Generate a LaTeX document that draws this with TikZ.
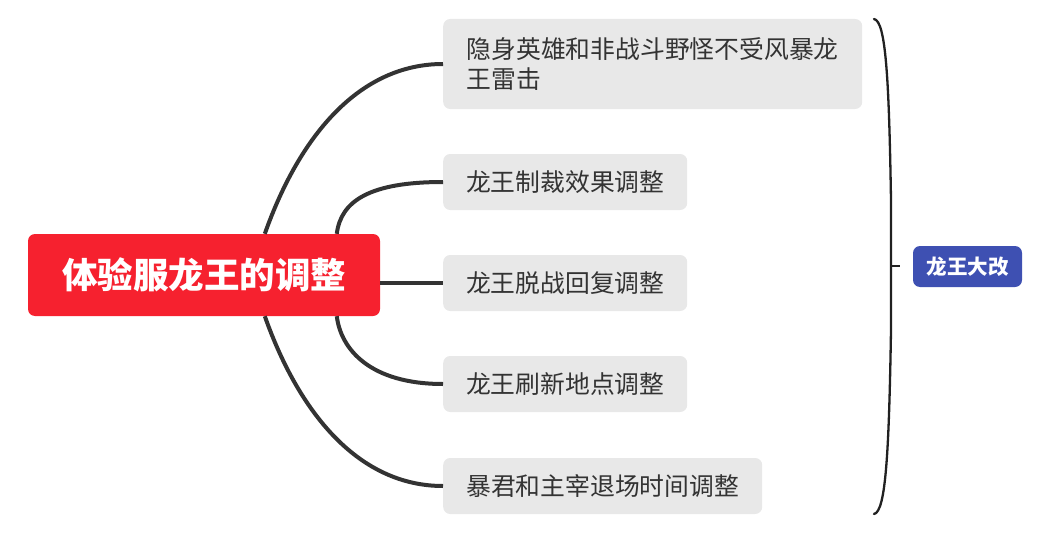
\documentclass[tikz,border=0pt]{standalone}
\usepackage{fontspec}
\newfontfamily\cjk{Noto Sans CJK SC}
\definecolor{rootred}{RGB}{246,33,47}
\definecolor{boxgray}{RGB}{232,232,232}
\definecolor{txtgray}{RGB}{51,51,51}
\definecolor{linegray}{RGB}{51,51,51}
\definecolor{sumblue}{RGB}{62,80,178}
\tikzset{
  rootbox/.style={fill=rootred, rounded corners=7pt, inner sep=0pt, minimum width=352pt, minimum height=82pt, text=white, font=\cjk\bfseries\fontsize{35.5}{40}\selectfont},
  topicbox/.style={fill=boxgray, rounded corners=7pt, inner sep=0pt, minimum height=56pt, anchor=west, text=txtgray, font=\cjk\fontsize{24.8}{30}\selectfont},
  sumbox/.style={fill=sumblue, rounded corners=7pt, inner sep=0pt, minimum width=109pt, minimum height=41pt, text=white, font=\cjk\bfseries\fontsize{20.5}{24}\selectfont},
  branch/.style={draw=linegray, line width=4pt},
  bracel/.style={draw=black!87, line width=2.3pt, line cap=round}
}
\begin{document}
\begin{tikzpicture}[x=1pt,y=-1pt]
\useasboundingbox (0,0) rectangle (1058,543);
\node[rootbox] (root) at (204,275) {体验服龙王的调整};
\node[topicbox, minimum width=419pt, minimum height=90pt, align=left] (b1) at (443,64) {隐身英雄和非战斗野怪不受风暴龙\\王雷击};
\node[topicbox, minimum width=244pt] (b2) at (443,182) {龙王制裁效果调整};
\node[topicbox, minimum width=244pt] (b3) at (443,283) {龙王脱战回复调整};
\node[topicbox, minimum width=244pt] (b4) at (443,384) {龙王刷新地点调整};
\node[topicbox, minimum width=319pt] (b5) at (443,486) {暴君和主宰退场时间调整};
\node[sumbox] (sum) at (967.5,266.5) {龙王大改};
% branches
\draw[branch] ([xshift=237pt]root.north west) .. controls +(35,-99) and +(-83,0) .. (b1.west);
\draw[branch] ([xshift=309pt]root.north west) .. controls +(4,-33) and +(-73,0) .. (b2.west);
\draw[branch] (root.east |- b3.west) -- (b3.west);
\draw[branch] ([xshift=309pt]root.south west) .. controls +(4,33) and +(-73,0) .. (b4.west);
\draw[branch] ([xshift=237pt]root.south west) .. controls +(35,99) and +(-83,0) .. (b5.west);
% summary brace
\coordinate (bt) at (874,19);
\coordinate (bb) at (874,514);
\coordinate (bm) at (891,266);
\coordinate (bk) at (900,266);
\draw[bracel] (bt) .. controls (886,21) and (889,80) .. (891,200) -- (891,330) .. controls (889,450) and (886,512) .. (bb);
\draw[bracel, line cap=butt] (bm) -- (bk);
\end{tikzpicture}
\end{document}
